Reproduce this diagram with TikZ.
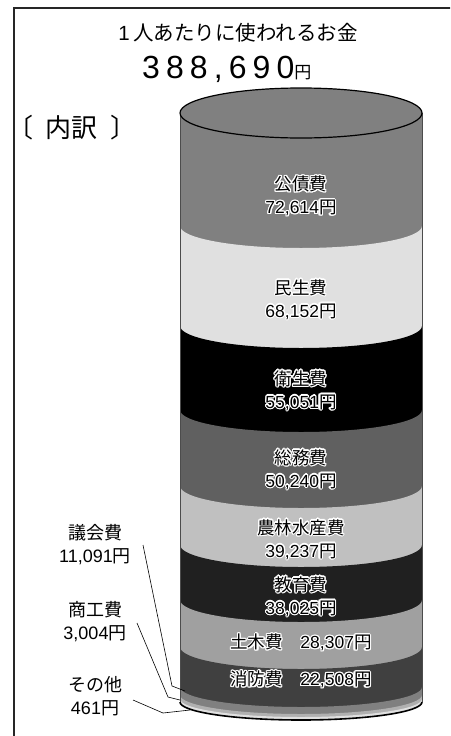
\documentclass[tikz,border=0pt]{standalone}
\usepackage{fontspec}
\setmainfont{Noto Sans CJK JP}
\newfontfamily\arialf{Liberation Sans}
\usepackage{contour}
\contourlength{1.2pt}

\definecolor{kousai}{HTML}{808080}
\definecolor{minsei}{HTML}{E0E0E0}
\definecolor{eisei}{HTML}{000000}
\definecolor{soumu}{HTML}{606060}
\definecolor{nourin}{HTML}{C0C0C0}
\definecolor{kyouiku}{HTML}{202020}
\definecolor{doboku}{HTML}{A0A0A0}
\definecolor{shoubou}{HTML}{404040}
\definecolor{gikai}{HTML}{808080}
\definecolor{shoukou}{HTML}{B0B0B0}
\definecolor{sonota}{HTML}{E0E0E0}

\begin{document}
\begin{tikzpicture}[x=1pt,y=-1pt,
		lab/.style={align=center,font=\fontsize{17.5}{23}\selectfont},
		sidelab/.style={align=center,font=\fontsize{18}{23}\selectfont},
		edge/.style={draw=black!70,line width=0.8pt},
		leader/.style={draw=black,line width=0.6pt}]
			\useasboundingbox (0,0) rectangle (450,736);
			\clip (0,0) rectangle (450,736);
			\draw[line width=2pt,black!85] (14,740) -- (14,8) -- (455,8);
			% headings
			\node[font=\fontsize{20.5}{24}\selectfont] (title) at (238,33) {{\arialf 1}\,人あたりに使われるお金};
			\node[anchor=base west,inner sep=0pt] (total) at (142,78) {{\fontsize{32}{36}\selectfont\arialf\addfontfeature{LetterSpace=19}388,690}{\fontsize{17}{18}\selectfont 円}};
			\node[font=\fontsize{26}{30}\selectfont] (uchiwake) at (72,128) {〔\hspace{0.45em}内訳\hspace{0.5em}〕};
			% bands, top to bottom
			\fill[kousai] (180,113) arc[start angle=180,end angle=0,x radius=121,y radius=22] -- (422,702) arc[start angle=0,end angle=180,x radius=121,y radius=18] -- cycle;
			\fill[minsei] (180,226) arc[start angle=180,end angle=0,x radius=121,y radius=22] -- (422,702) arc[start angle=0,end angle=180,x radius=121,y radius=18] -- cycle;
			\fill[eisei] (180,326) arc[start angle=180,end angle=0,x radius=121,y radius=22] -- (422,702) arc[start angle=0,end angle=180,x radius=121,y radius=18] -- cycle;
			\fill[soumu] (180,410) arc[start angle=180,end angle=0,x radius=121,y radius=22] -- (422,702) arc[start angle=0,end angle=180,x radius=121,y radius=18] -- cycle;
			\fill[nourin] (180,486) arc[start angle=180,end angle=0,x radius=121,y radius=22] -- (422,702) arc[start angle=0,end angle=180,x radius=121,y radius=18] -- cycle;
			\fill[kyouiku] (180,545) arc[start angle=180,end angle=0,x radius=121,y radius=22] -- (422,702) arc[start angle=0,end angle=180,x radius=121,y radius=18] -- cycle;
			\fill[doboku] (180,600) arc[start angle=180,end angle=0,x radius=121,y radius=22] -- (422,702) arc[start angle=0,end angle=180,x radius=121,y radius=18] -- cycle;
			\fill[shoubou] (180,647) arc[start angle=180,end angle=0,x radius=121,y radius=22] -- (422,702) arc[start angle=0,end angle=180,x radius=121,y radius=18] -- cycle;
			\fill[gikai] (180,687) arc[start angle=180,end angle=0,x radius=121,y radius=20] -- (422,702) arc[start angle=0,end angle=180,x radius=121,y radius=18] -- cycle;
			\fill[shoukou] (180,695) arc[start angle=180,end angle=0,x radius=121,y radius=19] -- (422,702) arc[start angle=0,end angle=180,x radius=121,y radius=18] -- cycle;
			\fill[sonota] (180,699) arc[start angle=180,end angle=0,x radius=121,y radius=18] -- (422,702) arc[start angle=0,end angle=180,x radius=121,y radius=18] -- cycle;
			% outline
			\draw[edge] (180,113) -- (180,702);
			\draw[edge] (422,113) -- (422,702);
			\draw[line width=1.6pt] (180,702) arc[start angle=180,end angle=0,x radius=121,y radius=18];
			\filldraw[fill=kousai,draw=black,line width=1.2pt] (301,113) ellipse[x radius=121,y radius=25];
			% labels on the cylinder
			\node[lab] (Lkousai) at (301,196.5) {\contour{white}{公債費}\\\contour{white}{{\arialf 72,614}円}};
			\node[lab] (Lminsei) at (301,300) {\contour{white}{民生費}\\\contour{white}{{\arialf 68,152}円}};
			\node[lab] (Leisei) at (301,391) {\contour{white}{衛生費}\\\contour{white}{{\arialf 55,051}円}};
			\node[lab] (Lsoumu) at (301,470) {\contour{white}{総務費}\\\contour{white}{{\arialf 50,240}円}};
			\node[lab] (Lnourin) at (301,540) {\contour{white}{農林水産費}\\\contour{white}{{\arialf 39,237}円}};
			\node[lab] (Lkyouiku) at (301,597) {\contour{white}{教育費}\\\contour{white}{{\arialf 38,025}円}};
			\node[lab] (Ldoboku) at (301,643) {\contour{white}{土木費\hspace{1em}{\arialf 28,307}円}};
			\node[lab] (Lshoubou) at (301,680) {\contour{white}{消防費\hspace{1em}{\arialf 22,508}円}};
			% labels at the left
			\node[sidelab] (Lgikai) at (95,545) {議会費\\{\arialf 11,091}円};
			\node[sidelab] (Lshoukou) at (95,621.5) {商工費\\{\arialf 3,004}円};
			\node[sidelab] (Lsonota) at (95,696) {その他\\{\arialf 461}円};
			\coordinate (Gs) at (143,545);
			\coordinate (Gk) at (172,686);
			\coordinate (Ge) at (185,691);
			\coordinate (Ss) at (137,623);
			\coordinate (Sk) at (168,697);
			\coordinate (Se) at (180,700);
			\coordinate (Os) at (133,700);
			\coordinate (Ok) at (163,713);
			\coordinate (Oe) at (190,710);
			\draw[leader] (Gs) -- (Gk) -- (Ge);
			\draw[leader] (Ss) -- (Sk) -- (Se);
			\draw[leader] (Os) -- (Ok) -- (Oe);
		\end{tikzpicture}
\end{document}
